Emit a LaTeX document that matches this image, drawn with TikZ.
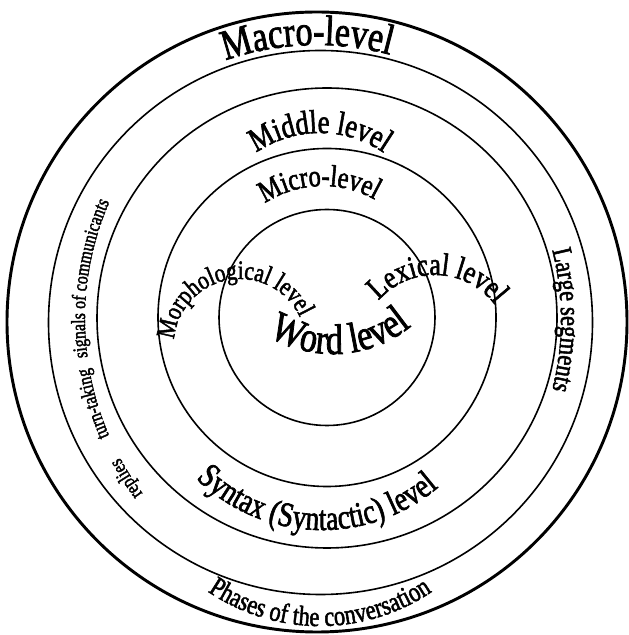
\documentclass[tikz,border=0pt]{standalone}
\usepackage{fontspec}
\setmainfont{Liberation Serif}
\newfontfamily\artfont[FakeStretch=0.8,FakeBold=1.8]{Liberation Serif}
\usepackage{tikz}
\usetikzlibrary{decorations.text}
\tikzset{
  rim/.style={line width=2.2pt},
  ring/.style={line width=1.2pt},
}
% text set on an arc: centre, radius, start angle, end angle, size, text
\newcommand{\arctext}[6]{%
  \path[decorate,decoration={text along path,text align=center,
    text={|\artfont\fontsize{#5}{#5}\selectfont|#6}}]
    (#1) ++(#3:#2) arc[start angle=#3,end angle=#4,radius=#2];
}

\begin{document}
\begin{tikzpicture}[x=0.75pt,y=0.75pt]
  \useasboundingbox (0,0) rectangle (628,635);
  \coordinate (macroc) at (317,313);
  \coordinate (middlec) at (320.5,312.5);
  \coordinate (syntaxc) at (327,317);
  \coordinate (microc) at (327,317.5);
  \coordinate (wordc) at (327,317.5);
  \draw[rim] (macroc) circle[radius=310];
  \draw[ring] (middlec) circle[radius=272];
  \draw[ring] (syntaxc) circle[radius=230];
  \draw[ring] (microc) circle[radius=169];
  \draw[ring] (wordc) circle[radius=108];
  % labels
  \arctext{macroc}{277}{150}{34}{32}{Macro-level}
  \coordinate (midarc) at (320,390);
  \arctext{midarc}{112}{180}{0}{25}{Middle level}
  \coordinate (microarc) at (323,344);
  \arctext{microarc}{105}{180}{4}{23}{Micro-level}
  \coordinate (morpharc) at (240,290);
  \arctext{morpharc}{66}{200}{0}{20}{Morphological level}
  \coordinate (lexarc) at (435,285);
  \arctext{lexarc}{75}{178}{-2}{24}{Lexical level}
  \coordinate (wordarc) at (333,405);
  \arctext{wordarc}{124}{200}{348}{32}{Word level}
  \coordinate (syntaxarc) at (322,285);
  \arctext{syntaxarc}{180}{190}{346}{26}{Syntax (Syntactic) level}
  \coordinate (phasearc) at (320,209);
  \arctext{phasearc}{200}{200}{340}{21}{Phases of the conversation}
  \coordinate (replyarc) at (378,316);
  \arctext{replyarc}{293}{242}{131}{15}{replies{\hspace{18pt}}turn-taking{\hspace{8pt}}signals of communicants}
  \coordinate (largearc) at (280,315);
  \arctext{largearc}{281}{30}{-30}{21}{Large segments}
\end{tikzpicture}
\end{document}
